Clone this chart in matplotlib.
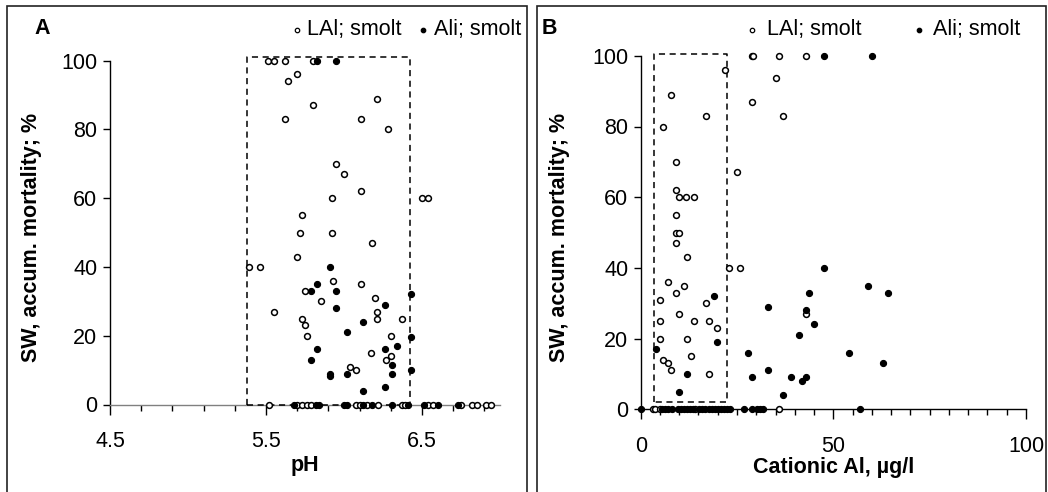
import matplotlib
matplotlib.use('Agg')
import matplotlib.pyplot as plt
from matplotlib.lines import Line2D
from matplotlib.patches import Rectangle
from matplotlib.ticker import MultipleLocator, FixedLocator, FixedFormatter

plt.rcParams['font.family'] = ['Liberation Sans', 'DejaVu Sans']

# panel A: pH vs accumulated mortality
ph_lal = [5.51, 5.55, 5.62, 5.80, 5.70, 5.64, 6.21, 5.80, 5.62, 6.11, 6.28, 5.95,
          6.00, 6.11, 5.92, 6.50, 6.54, 5.73, 5.72, 5.92, 6.18, 5.70, 5.39, 5.46,
          5.93, 6.11, 5.75, 6.20, 5.85, 6.21, 5.55, 6.21, 5.73, 6.37, 5.75, 5.76,
          6.30, 6.17, 6.30, 6.27, 6.04, 6.08,
          5.52, 5.70, 5.73, 5.76, 5.79, 6.08, 6.10, 6.15, 6.22, 6.37, 6.39, 6.54,
          6.57, 6.75, 6.82, 6.85, 6.91, 6.94]
mort_lal_a = [100, 100, 100, 100, 96, 94, 89, 87, 83, 83, 80, 70,
              67, 62, 60, 60, 60, 55, 50, 50, 47, 43, 40, 40,
              36, 35, 33, 31, 30, 27, 27, 25, 25, 25, 23, 20,
              20, 15, 14, 13, 11, 10,
              0, 0, 0, 0, 0, 0, 0, 0, 0, 0, 0, 0,
              0, 0, 0, 0, 0, 0]
ph_ali = [5.83, 5.95, 5.91, 5.83, 5.79, 5.95, 6.43, 6.26, 5.95, 6.12, 6.02, 6.43,
          6.34, 5.83, 6.26, 5.79, 6.31, 6.43, 5.91, 5.91, 6.02, 6.31, 6.26, 6.12,
          5.68, 5.82, 5.84, 6.00, 6.02, 6.12, 6.18, 6.31, 6.41, 6.51, 6.60, 6.73]
mort_ali_a = [100, 100, 40, 35, 33, 33, 32, 29, 28, 24, 21, 19.5,
              17, 16, 16, 13, 11.5, 10, 9, 8.4, 9, 9, 5, 4,
              0, 0, 0, 0, 0, 0, 0, 0, 0, 0, 0, 0]

# panel B: cationic Al vs accumulated mortality
al_lal = [28.8, 29.2, 35.8, 42.9, 21.8, 35.0, 7.9, 29.0, 17.0, 37.0, 5.9, 9.2,
          24.9, 9.2, 9.9, 11.8, 13.9, 9.2, 9.2, 9.9, 9.2, 11.9, 23.0, 25.9,
          7.1, 11.2, 9.2, 5.1, 17.0, 9.9, 42.9, 5.1, 13.9, 17.8, 19.8, 5.1,
          11.9, 13.1, 5.9, 7.1, 7.9, 17.8,
          3.1, 3.8, 5.0, 14.0, 35.9]
mort_lal_b = [100, 100, 100, 100, 96, 93.6, 89, 87, 83, 83, 80, 70,
              67, 62, 60, 60, 60, 55, 50, 50, 47, 43, 40, 40,
              36, 35, 33, 31, 30, 27, 27, 25, 25, 25, 23, 20,
              20, 15, 14, 13, 11, 10,
              0, 0, 0, 0, 0]
al_ali = [47.7, 60.1, 47.7, 58.9, 43.7, 64.1, 19.1, 33.0, 42.9, 45.0, 41.0, 19.8,
          3.9, 27.8, 54.1, 62.9, 33.0, 11.9, 29.0, 38.9, 43.0, 41.8, 9.9, 36.9,
          0.0, 5.6, 6.4, 7.2, 8.0, 9.6, 10.4, 11.2, 12.0, 12.8, 13.6, 15.2,
          16.0, 16.8, 17.6, 18.4, 19.2, 20.0, 20.8, 21.6, 22.4, 23.2, 26.9, 28.8,
          30.1, 31.0, 31.8, 56.9]
mort_ali_b = [100, 100, 40, 35, 33, 33, 32, 29, 28, 24, 21, 19,
              17, 16, 16, 13, 11, 10, 9, 9, 9, 8, 5, 4,
              0, 0, 0, 0, 0, 0, 0, 0, 0, 0, 0, 0,
              0, 0, 0, 0, 0, 0, 0, 0, 0, 0, 0, 0,
              0, 0, 0, 0]

# dashed "window" boxes (x0, x1, y0, y1)
box_a = (5.38, 6.42, 0, 101)
box_b = (3.4, 22.3, 2, 100.5)

W, H = 1048, 492
fig = plt.figure(figsize=(W / 100, H / 100), dpi=100)


def fx(px):
    return px / W


def fy(py):
    return 1 - py / H


FS = 15.5


def style_axes(ax):
    ax.spines['top'].set_visible(False)
    ax.spines['right'].set_visible(False)
    ax.set_ylim(0, 100)
    ax.yaxis.set_major_locator(MultipleLocator(20))
    ax.tick_params(axis='y', direction='out', length=5, width=1, labelsize=FS, pad=4)
    ax.tick_params(axis='x', which='major', direction='out', length=7, width=1,
                   labelsize=FS, pad=12)
    ax.tick_params(axis='x', which='minor', direction='out', length=4, width=1)
    ax.spines['left'].set_linewidth(1)
    ax.spines['bottom'].set_linewidth(1)


def draw_points(ax, xo, yo, xf, yf):
    ax.plot(xo, yo, 'o', ms=4.2, mfc='white', mec='black', mew=1.1,
            ls='none', clip_on=False, zorder=4)
    ax.plot(xf, yf, 'o', ms=4.4, mfc='black', mec='black', mew=0.8,
            ls='none', clip_on=False, zorder=5)


def draw_box(ax, box):
    x0, x1, y0, y1 = box
    ax.plot([x0, x0, x1, x1, x0], [y0, y1, y1, y0, y0], color='black',
            lw=1.1, ls=(0, (4, 3)), clip_on=False, zorder=3)


# panel A
axA = fig.add_axes([fx(110), fy(404.5), fx(500) - fx(110), fy(60.7) - fy(404.5)])
style_axes(axA)
axA.set_xlim(4.5, 7.0)
axA.xaxis.set_major_locator(FixedLocator([4.5, 5.5, 6.5]))
axA.xaxis.set_major_formatter(FixedFormatter(['4.5', '5.5', '6.5']))
axA.xaxis.set_minor_locator(FixedLocator([4.7, 4.9, 5.1, 5.3, 5.7, 5.9, 6.1, 6.3,
                                          6.7, 6.9]))
axA.spines['bottom'].set_color('#808080')
draw_box(axA, box_a)
draw_points(axA, ph_lal, mort_lal_a, ph_ali, mort_ali_a)

# panel B
axB = fig.add_axes([fx(640.7), fy(409.3), fx(1026) - fx(640.7), fy(55.8) - fy(409.3)])
style_axes(axB)
axB.set_xlim(0, 100)
axB.xaxis.set_major_locator(MultipleLocator(50))
axB.xaxis.set_minor_locator(MultipleLocator(5))
draw_box(axB, box_b)
draw_points(axB, al_lal, mort_lal_b, al_ali, mort_ali_b)

# axis titles
fig.text(fx(305), fy(465), 'pH', ha='center', va='center', fontsize=FS, fontweight='bold')
fig.text(fx(834), fy(467), 'Cationic Al, µg/l', ha='center', va='center',
         fontsize=FS, fontweight='bold')
for xp in (32, 560):
    fig.text(fx(xp), fy(237), 'SW, accum. mortality; %', ha='center', va='center',
             rotation=90, fontsize=FS, fontweight='bold')

# panel letters
fig.text(fx(42), fy(28), 'A', ha='center', va='center', fontsize=FS, fontweight='bold')
fig.text(fx(549), fy(28), 'B', ha='center', va='center', fontsize=FS, fontweight='bold')


# legends
def legend_item(xm, xt, y, filled, label):
    fig.add_artist(Line2D([fx(xm)], [fy(y)], marker='o', ms=3.2,
                          mfc='black' if filled else 'white', mec='black', mew=0.9,
                          ls='none', transform=fig.transFigure))
    fig.text(fx(xt), fy(y), label, ha='left', va='center', fontsize=FS)


legend_item(297, 307, 30, False, 'LAl; smolt')
legend_item(423, 434, 30, True, 'Ali; smolt')
legend_item(752, 767, 30, False, 'LAl; smolt')
legend_item(919, 933, 30, True, 'Ali; smolt')

# panel frames
fig.add_artist(Rectangle((fx(7), fy(500)), fx(527) - fx(7), fy(6) - fy(500),
                         fill=False, ec='#222222', lw=1.2, transform=fig.transFigure))
fig.add_artist(Rectangle((fx(537), fy(500)), fx(1046) - fx(537), fy(6) - fy(500),
                         fill=False, ec='#222222', lw=1.2, transform=fig.transFigure))

fig.savefig('out.png', dpi=100)
